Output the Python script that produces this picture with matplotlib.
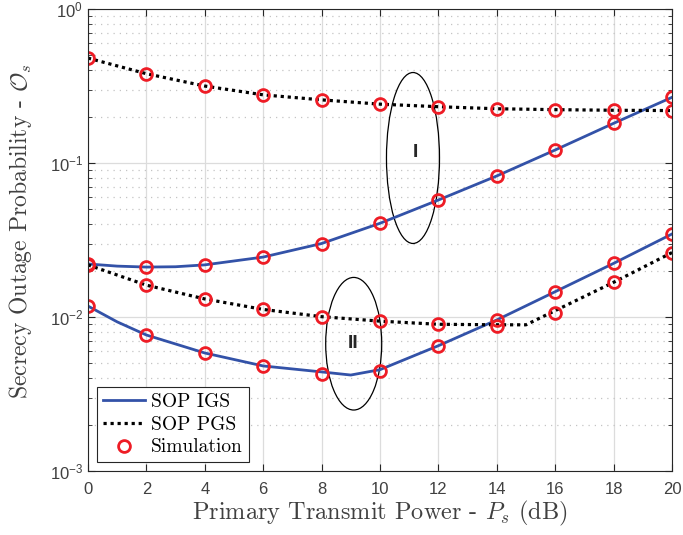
import matplotlib.pyplot as plt
import numpy as np
from matplotlib.patches import Ellipse
from matplotlib.ticker import LogLocator, NullFormatter

plt.rcParams['mathtext.fontset'] = 'custom'
plt.rcParams['mathtext.rm'] = 'Liberation Sans'
plt.rcParams['mathtext.it'] = 'Liberation Sans:italic'
plt.rcParams['font.family'] = 'Liberation Sans'

# Simulation points (every 2 dB)
ps_sim = [0, 2, 4, 6, 8, 10, 12, 14, 16, 18, 20]
sim_igs_1 = [0.0221, 0.0212, 0.0218, 0.0245, 0.0300, 0.0406, 0.0575, 0.0824, 0.1215, 0.181, 0.267]
sim_pgs_1 = [0.48, 0.38, 0.316, 0.277, 0.257, 0.241, 0.232, 0.225, 0.222, 0.220, 0.219]
sim_igs_2 = [0.01178, 0.00764, 0.00584, 0.00481, 0.00425, 0.00447, 0.00651, 0.00957, 0.0146, 0.0223, 0.0346]
sim_pgs_2 = [0.0218, 0.0161, 0.0131, 0.0112, 0.01005, 0.0094, 0.00897, 0.00875, 0.01067, 0.0168, 0.0262]

# Analytical curves
ps_igs_1 = [0, 1, 2, 3, 4, 6, 8, 10, 12, 14, 16, 18, 20]
igs_1 = [0.0221, 0.0214, 0.0211, 0.0212, 0.0218, 0.0245, 0.0300, 0.0406, 0.0575, 0.0824, 0.1215, 0.181, 0.267]
ps_pgs_1 = [0, 2, 4, 6, 8, 10, 12, 14, 16, 18, 20]
pgs_1 = [0.48, 0.38, 0.316, 0.277, 0.257, 0.241, 0.232, 0.225, 0.222, 0.220, 0.219]
ps_igs_2 = [0, 1, 2, 4, 6, 8, 9, 10, 12, 14, 16, 18, 20]
igs_2 = [0.01178, 0.0093, 0.00764, 0.00584, 0.00481, 0.00440, 0.00420, 0.00455, 0.00651, 0.00957, 0.0146, 0.0223, 0.0346]
ps_pgs_2 = [0, 2, 4, 6, 8, 10, 12, 14, 15, 16, 18, 20]
pgs_2 = [0.0218, 0.0161, 0.0131, 0.0112, 0.01005, 0.0094, 0.00897, 0.0089, 0.0089, 0.0110, 0.0168, 0.0262]

blue = '#3352a8'
red = '#ee1c25'
axcol = '#262626'

fig = plt.figure(figsize=(6.83, 5.35), dpi=100)
ax = fig.add_axes([0.1288, 0.1196, 0.8551, 0.8636])

ax.plot(ps_igs_1, igs_1, color=blue, lw=2, label='SOP IGS')
ax.plot(ps_pgs_1, pgs_1, color='black', lw=2.3, ls=(0, (1, 1.2)), label='SOP PGS')
ax.plot(ps_igs_2, igs_2, color=blue, lw=2)
ax.plot(ps_pgs_2, pgs_2, color='black', lw=2.3, ls=(0, (1, 1.2)))
for s in [sim_igs_1, sim_pgs_1, sim_igs_2, sim_pgs_2]:
    ax.plot(ps_sim, s, ls='none', marker='o', ms=8.5, mfc='none', mec=red, mew=2,
            label='Simulation' if s is sim_igs_1 else None)

ax.set_yscale('log')
ax.set_xlim(0, 20)
ax.set_ylim(1e-3, 1)
ax.set_xticks(np.arange(0, 21, 2))
ax.yaxis.set_major_locator(LogLocator(base=10, numticks=10))
ax.yaxis.set_minor_locator(LogLocator(base=10, subs=np.arange(2, 10), numticks=10))
ax.yaxis.set_minor_formatter(NullFormatter())

ax.grid(True, which='major', color='#dcdcdc', lw=0.9)
ax.grid(True, which='minor', axis='y', color='#c4c4c4', lw=0.9, ls=(0, (1, 4)))
ax.set_axisbelow(True)
ax.tick_params(which='both', direction='in', top=True, right=True, colors=axcol,
               labelsize=12, labelcolor='#404040')
ax.tick_params(which='major', length=5)
ax.tick_params(which='minor', length=3)
ax.tick_params(axis='x', pad=8)
for sp in ax.spines.values():
    sp.set_color(axcol)
    sp.set_linewidth(0.8)

ax.set_xlabel('Primary Transmit Power - $P_s$ (dB)', family='cmr10', math_fontfamily='cm',
              fontsize=17.5, color='#404040', labelpad=1)
ax.set_ylabel('Secrecy Outage Probability - $\\mathcal{O}_s$', family='cmr10',
              math_fontfamily='cm', fontsize=17, color='#404040')
ax.yaxis.set_label_coords(-0.092, 0.52)

# Group markers
ax.add_patch(Ellipse((0.5565, 0.6775), 0.0908, 0.370, transform=ax.transAxes,
                     fill=False, ec='black', lw=0.9))
ax.add_patch(Ellipse((0.455, 0.2755), 0.0959, 0.287, transform=ax.transAxes,
                     fill=False, ec='black', lw=0.9))
ax.text(0.561, 0.689, 'I', transform=ax.transAxes, ha='center', va='center',
        fontsize=14, fontweight='bold', color='#262626')
ax.text(0.454, 0.2755, 'II', transform=ax.transAxes, ha='center', va='center',
        fontsize=14, fontweight='bold', color='#262626')

leg = ax.legend(loc='lower left', prop={'family': 'cmr10', 'size': 14}, fancybox=False,
                edgecolor=axcol, framealpha=1, handlelength=2.2, handletextpad=0.3,
                borderaxespad=0.45, borderpad=0.3, labelspacing=0.25)
leg.get_frame().set_linewidth(0.8)

fig.savefig('out.png', dpi=100)
